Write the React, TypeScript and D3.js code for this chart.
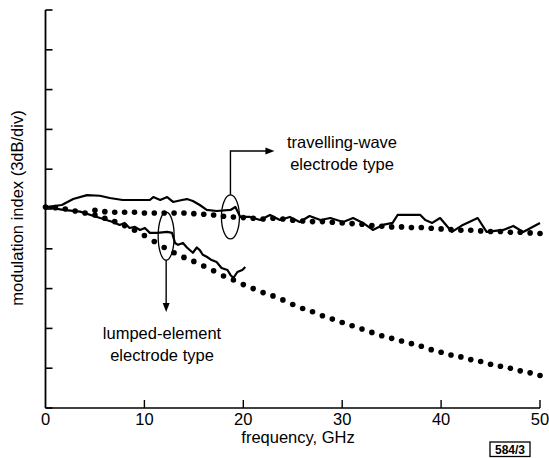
import React from 'react';
import * as d3 from 'd3';

// ---------- data (frequency in GHz, modulation index in dB, 3 dB/div) ----------
const xTickValues = [0, 10, 20, 30, 40, 50];
const xTickLabels = ['0', '10', '20', '30', '40', '50'];
const yTickValues = [-15, -12, -9, -6, -3, 0, 3, 6, 9, 12, 15];

// travelling-wave electrode, measured (solid)
const twSolidFreq = [0, 1.65, 2.8, 4.2, 5.5, 6.5, 7.8, 9.25, 10.55, 10.9, 11.6, 12.3, 12.9, 13.8, 14.3, 14.9, 15.6, 16.3, 17.3, 18.7, 19.2, 19.7, 20.7, 21.7, 22.7, 23.7, 24.7, 25.7, 26.7, 27.8, 28.8, 30.1, 31.1, 32.1, 33.1, 34.1, 35.1, 35.6, 37.9, 38.4, 39.1, 39.9, 41.1, 42.2, 43.7, 44.6, 46.3, 47.3, 48.3, 50];
const twSolidDb = [0.15, 0.3, 0.75, 1.05, 1.0, 0.83, 0.68, 0.68, 0.68, 0.9, 0.68, 0.9, 0.53, 0.68, 0.75, 0.6, 0.3, -0.07, -0.15, -0.07, 0.15, -0.6, -0.6, -0.83, -0.45, -0.83, -0.6, -0.98, -0.53, -0.83, -0.68, -0.98, -0.68, -1.05, -1.58, -1.2, -1.05, -0.45, -0.45, -0.83, -1.05, -0.68, -1.73, -1.2, -0.68, -1.73, -1.58, -1.28, -1.73, -1.05];

// travelling-wave electrode, calculated (dots)
const twDotFreq = [5, 6, 7, 8, 9, 10, 11, 12, 13, 14, 15, 16, 17, 18, 19, 20, 21, 22, 23, 24, 25, 26, 27, 28, 29, 30, 31, 32, 33, 34, 35, 36, 37, 38, 39, 40, 41, 42, 43, 44, 45, 46, 47, 48, 49, 50];
const twDotDb = [-0.1, -0.2, -0.25, -0.25, -0.25, -0.3, -0.3, -0.3, -0.3, -0.3, -0.35, -0.4, -0.45, -0.55, -0.6, -0.65, -0.7, -0.75, -0.7, -0.75, -0.85, -0.9, -0.95, -0.95, -1.0, -1.05, -1.1, -1.15, -1.25, -1.3, -1.35, -1.35, -1.4, -1.4, -1.45, -1.5, -1.55, -1.6, -1.6, -1.65, -1.7, -1.7, -1.75, -1.75, -1.8, -1.85];

// lumped-element electrode, measured (solid)
const leSolidFreq = [0, 1.8, 3.5, 5.2, 6.8, 7.5, 8.0, 8.5, 9.05, 9.55, 10.05, 10.55, 11.3, 12.3, 12.8, 13.1, 13.4, 13.9, 14.3, 14.9, 15.3, 15.6, 15.9, 16.3, 16.8, 17.3, 17.8, 18.4, 18.7, 19.0, 19.4, 19.9, 20.2];
const leSolidDb = [0.15, -0.07, -0.2, -0.6, -0.98, -1.2, -1.05, -1.43, -1.35, -1.58, -1.43, -1.8, -1.8, -1.73, -1.8, -2.56, -2.7, -2.56, -2.9, -3.3, -2.9, -3.1, -3.45, -3.6, -3.85, -4.0, -4.45, -4.6, -4.97, -5.2, -4.75, -4.6, -4.37];

// lumped-element electrode, calculated (dots)
const leDotFreq = [0, 1, 2, 3, 4, 5, 6, 7, 8, 9, 10, 11, 12, 13, 14, 15, 16, 17, 18, 19, 20, 21, 22, 23, 24, 25, 26, 27, 28, 29, 30, 31, 32, 33, 34, 35, 36, 37, 38, 39, 40, 41, 42, 43, 44, 45, 46, 47, 48, 49, 50];
const leDotDb = [0.15, 0.1, 0.0, -0.15, -0.3, -0.45, -0.7, -0.95, -1.25, -1.6, -2.0, -2.45, -2.9, -3.3, -3.65, -3.95, -4.3, -4.65, -5.05, -5.35, -5.7, -6.0, -6.3, -6.55, -6.85, -7.2, -7.5, -7.75, -8.05, -8.3, -8.55, -8.8, -9.05, -9.3, -9.55, -9.75, -9.95, -10.15, -10.35, -10.6, -10.8, -11.0, -11.15, -11.35, -11.5, -11.7, -11.85, -12.0, -12.2, -12.35, -12.55];

const FONT = '"Liberation Sans", Arial, Helvetica, sans-serif';

export default function App() {
  const W = 549;
  const H = 458;
  const x = d3.scaleLinear().domain([0, 50]).range([45.5, 540]);
  const y = d3.scaleLinear().domain([-15, 15]).range([408, 10]);

  const line = d3
    .line<[number, number]>()
    .x((d) => x(d[0]))
    .y((d) => y(d[1]))
    .curve(d3.curveLinear);

  const zip = (a: number[], b: number[]) => a.map((v, i) => [v, b[i]] as [number, number]);

  const twSolid = zip(twSolidFreq, twSolidDb);
  const leSolid = zip(leSolidFreq, leSolidDb);
  const twDots = zip(twDotFreq, twDotDb);
  const leDots = zip(leDotFreq, leDotDb);

  const x0 = x(0);
  const yBottom = y(-15);
  const yTop = y(15);

  // annotation anchors in data space
  const twEll = { f: 18.7, db: -0.6 };
  const leEll = { f: 12.2, db: -2.05 };
  const twEx = x(twEll.f);
  const twEy = y(twEll.db);
  const leEx = x(leEll.f);
  const leEy = y(leEll.db);

  return (
    <svg
      width={W}
      height={H}
      style={{ position: 'absolute', left: 0, top: 0, background: '#fff' }}
      fontFamily={FONT}
    >
      <rect x={0} y={0} width={W} height={H} fill="#fff" />

      {/* axes */}
      <line x1={x0} y1={yTop} x2={x0} y2={yBottom} stroke="#000" strokeWidth={1.8} />
      <line x1={x0} y1={yBottom} x2={x(50)} y2={yBottom} stroke="#000" strokeWidth={1.5} />
      {yTickValues.map((v) => (
        <line key={'yt' + v} x1={x0} x2={x0 + 7} y1={y(v)} y2={y(v)} stroke="#000" strokeWidth={1.6} />
      ))}
      {xTickValues.slice(1).map((v) => (
        <line key={'xt' + v} x1={x(v)} x2={x(v)} y1={yBottom} y2={yBottom - 8} stroke="#000" strokeWidth={1.4} />
      ))}
      {xTickValues.map((v, i) => (
        <text key={'xl' + v} x={x(v)} y={yBottom + 16.5} fontSize={16.5} textAnchor="middle" fill="#000">
          {xTickLabels[i]}
        </text>
      ))}
      <text x={298} y={443} fontSize={16.5} textAnchor="middle" fill="#000">
        frequency, GHz
      </text>
      <text
        transform={`translate(23,208) rotate(-90)`}
        fontSize={16.5}
        textAnchor="middle"
        fill="#000"
      >
        modulation index (3dB/div)
      </text>

      {/* curves */}
      <path d={line(twSolid) || ''} fill="none" stroke="#000" strokeWidth={2.2} strokeLinejoin="round" />
      <path d={line(leSolid) || ''} fill="none" stroke="#000" strokeWidth={2.2} strokeLinejoin="round" />
      {twDots.map((d, i) => (
        <circle key={'td' + i} cx={x(d[0])} cy={y(d[1])} r={2.8} fill="#000" />
      ))}
      {leDots.map((d, i) => (
        <circle key={'ld' + i} cx={x(d[0])} cy={y(d[1])} r={2.8} fill="#000" />
      ))}

      {/* travelling-wave annotation */}
      <ellipse cx={twEx} cy={twEy} rx={9} ry={22} fill="none" stroke="#000" strokeWidth={1.3} />
      <polyline
        points={`${twEx},${twEy - 22} ${twEx},151 ${twEx + 38},151`}
        fill="none"
        stroke="#000"
        strokeWidth={1.4}
      />
      <path d={`M${twEx + 44},151 L${twEx + 35},147.5 L${twEx + 35},154.5 Z`} fill="#000" />
      <text x={342} y={148} fontSize={16.5} textAnchor="middle" fill="#000">
        travelling-wave
      </text>
      <text x={342} y={170} fontSize={16.5} textAnchor="middle" fill="#000">
        electrode type
      </text>

      {/* lumped-element annotation */}
      <ellipse cx={leEx} cy={leEy} rx={8} ry={24} fill="none" stroke="#000" strokeWidth={1.3} />
      <line x1={leEx} y1={leEy + 24} x2={leEx} y2={305} stroke="#000" strokeWidth={1.4} />
      <path d={`M${leEx},312 L${leEx - 3.5},303 L${leEx + 3.5},303 Z`} fill="#000" />
      <text x={162} y={339} fontSize={16.5} textAnchor="middle" fill="#000">
        lumped-element
      </text>
      <text x={162} y={361} fontSize={16.5} textAnchor="middle" fill="#000">
        electrode type
      </text>

      {/* figure id box */}
      <rect x={490} y={442} width={40} height={14.5} fill="none" stroke="#000" strokeWidth={1.3} />
      <text x={510} y={454} fontSize={12} fontWeight="bold" textAnchor="middle" fill="#000">
        584/3
      </text>
    </svg>
  );
}
